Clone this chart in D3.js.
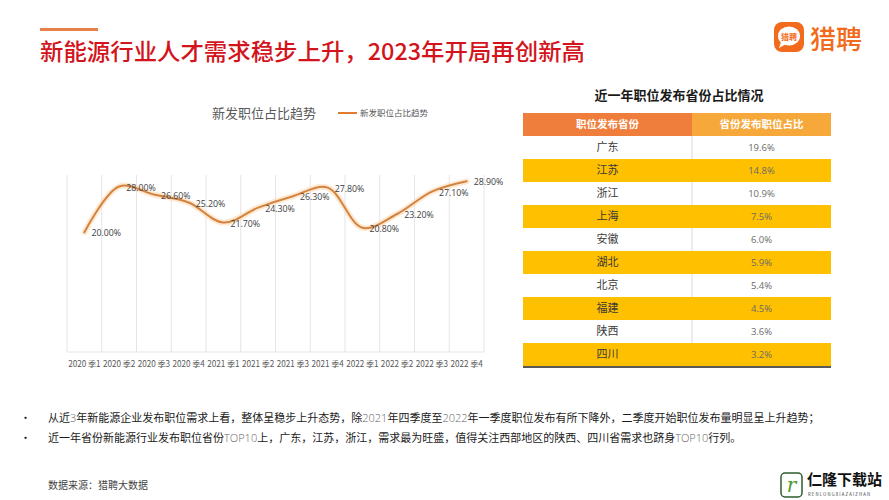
<!DOCTYPE html>
<html><head><meta charset="utf-8">
<script src="https://cdn.jsdelivr.net/npm/d3@7/dist/d3.min.js"></script>
<style>
html,body{margin:0;padding:0;background:#fff;}
svg{display:block;font-family:"Noto Sans CJK SC","Noto Sans",sans-serif;}
</style></head>
<body>
<svg id="c" width="889" height="500"></svg>
<script>
// ---- data ----
const quarters = ["2020 季1","2020 季2","2020 季3","2020 季4","2021 季1","2021 季2","2021 季3","2021 季4","2022 季1","2022 季2","2022 季3","2022 季4"];
const shareValues = [20.00, 28.00, 26.60, 25.20, 21.70, 24.30, 26.30, 27.80, 20.80, 23.20, 27.10, 28.90];
const provinces = ["广东","江苏","浙江","上海","安徽","湖北","北京","福建","陕西","四川"];
const provinceShares = ["19.6%","14.8%","10.9%","7.5%","6.0%","5.9%","5.4%","4.5%","3.6%","3.2%"];
const tableHeaders = ["职位发布省份","省份发布职位占比"];
const mainTitle = "新能源行业人才需求稳步上升，2023年开局再创新高";
const chartTitle = "新发职位占比趋势";
const legendLabel = "新发职位占比趋势";
const tableTitle = "近一年职位发布省份占比情况";
const bullets = [
  ["从近","3","年新能源企业发布职位需求上看，整体呈稳步上升态势，除","2021","年四季度至","2022","年一季度职位发布有所下降外，二季度开始职位发布量明显呈上升趋势；"],
  ["近一年省份新能源行业发布职位省份","TOP10","上，广东，江苏，浙江，需求最为旺盛，值得关注西部地区的陕西、四川省需求也跻身","TOP10","行列。"]
];
const sourceNote = "数据来源：猎聘大数据";

const svg = d3.select("#c");

// ---- header ----
svg.append("rect").attr("x",40).attr("y",28).attr("width",58).attr("height",3).attr("fill","#e8804a");
svg.append("text").attr("x",40).attr("y",60).attr("font-size",23).attr("font-weight",500)
  .attr("fill","#d3141c").attr("textLength",545).attr("lengthAdjust","spacingAndGlyphs").text(mainTitle);

// logo
const logo = svg.append("g");
logo.append("rect").attr("x",774).attr("y",22).attr("width",30).attr("height",30).attr("rx",8).attr("fill","#f26a1b");
logo.append("ellipse").attr("cx",789).attr("cy",36).attr("rx",11).attr("ry",9.5).attr("fill","#fff");
logo.append("path").attr("d","M781,42 L779,48 L786,44 Z").attr("fill","#fff");
logo.append("text").attr("x",789).attr("y",39.5).attr("text-anchor","middle").attr("font-size",8).attr("font-weight",700).attr("fill","#f26a1b").text("猎聘");
logo.append("text").attr("x",810).attr("y",49).attr("font-size",26).attr("font-weight",500).attr("fill","#f26a1b").text("猎聘");

// ---- line chart ----
const x = d3.scaleBand().domain(quarters).range([67,484]);
const y = d3.scaleLinear().domain([0,30]).range([347,175]);

svg.append("text").attr("x",264).attr("y",118).attr("text-anchor","middle").attr("font-size",13).attr("fill","#595959").text(chartTitle);
svg.append("line").attr("x1",338).attr("x2",357).attr("y1",113).attr("y2",113).attr("stroke","#e07b2f").attr("stroke-width",2);
svg.append("text").attr("x",360).attr("y",116).attr("font-size",8.5).attr("fill","#595959").text(legendLabel);

const grid = svg.append("g");
const bounds = quarters.map(q => x(q)).concat([x.range()[1]]);
grid.selectAll("line").data(bounds).join("line")
  .attr("x1",d=>d).attr("x2",d=>d).attr("y1",175).attr("y2",352)
  .attr("stroke","#e5e5e5").attr("stroke-width",1);
grid.append("line").attr("x1",67).attr("x2",484).attr("y1",352).attr("y2",352).attr("stroke","#e5e5e5");

const xAxis = svg.append("g").attr("transform","translate(0,352)")
  .call(d3.axisBottom(x).tickSize(0).tickPadding(9));
xAxis.select(".domain").remove();
xAxis.selectAll("text").attr("font-size",8.5).attr("fill","#595959").attr("font-family","'Noto Sans CJK SC',sans-serif")
  .attr("textLength",32.5).attr("lengthAdjust","spacingAndGlyphs");

const pts = quarters.map((q,i)=>[x(q)+x.bandwidth()/2, y(shareValues[i])]);
const lineGen = d3.line().curve(d3.curveCatmullRom.alpha(0.5));
svg.append("path").attr("d",lineGen(pts)).attr("fill","none").attr("stroke","#fdd9b0").attr("stroke-width",6).attr("stroke-opacity",0.55).attr("stroke-linecap","round");
svg.append("path").attr("d",lineGen(pts)).attr("fill","none").attr("stroke","#d4833f").attr("stroke-width",2).attr("stroke-linecap","round");

svg.append("g").selectAll("text").data(shareValues).join("text")
  .attr("x",(d,i)=>pts[i][0]+7).attr("y",(d,i)=>pts[i][1]+1).attr("dy","0.35em")
  .attr("font-size",8.8).attr("fill","#404040").attr("font-family","'Open Sans',sans-serif")
  .text(d=>d.toFixed(2)+"%");

// ---- table ----
svg.append("text").attr("x",679).attr("y",100).attr("text-anchor","middle").attr("font-size",13).attr("font-weight",700).attr("fill","#1a1a1a").text(tableTitle);
const cx = [523,692,831];
const rowY = d3.scaleBand().domain(provinces).range([136,366]);
svg.append("rect").attr("x",cx[0]).attr("y",113).attr("width",cx[1]-cx[0]).attr("height",23).attr("fill","#ef7e3c");
svg.append("rect").attr("x",cx[1]).attr("y",113).attr("width",cx[2]-cx[1]).attr("height",23).attr("fill","#f6a83a");
tableHeaders.forEach((h,i)=>{
  svg.append("text").attr("x",(cx[i]+cx[i+1])/2).attr("y",124.5).attr("dy","0.35em").attr("text-anchor","middle")
    .attr("font-size",10.5).attr("font-weight",700).attr("fill","#fff").text(h);
});
const rows = svg.append("g").selectAll("g").data(provinces).join("g");
rows.append("rect").attr("x",cx[0]).attr("y",d=>rowY(d)).attr("width",cx[2]-cx[0]).attr("height",rowY.bandwidth())
  .attr("fill",(d,i)=> i%2 ? "#ffc000" : "#ffffff");
rows.filter((d,i)=>i%2===0).append("line").attr("x1",cx[1]).attr("x2",cx[1]).attr("y1",d=>rowY(d)).attr("y2",d=>rowY(d)+rowY.bandwidth()).attr("stroke","#d9d9d9");
rows.append("text").attr("x",(cx[0]+cx[1])/2).attr("y",d=>rowY(d)+rowY.bandwidth()/2).attr("dy","0.35em").attr("text-anchor","middle")
  .attr("font-size",11).attr("fill","#3a3a3a").text(d=>d);
rows.append("text").attr("x",(cx[1]+cx[2])/2).attr("y",d=>rowY(d)+rowY.bandwidth()/2).attr("dy","0.35em").attr("text-anchor","middle")
  .attr("font-size",9.5).attr("fill","#6a6a6a").attr("font-family","'Open Sans',sans-serif").text((d,i)=>provinceShares[i]);
svg.append("line").attr("x1",cx[0]).attr("x2",cx[2]).attr("y1",367).attr("y2",367).attr("stroke","#595959").attr("stroke-width",2);

// ---- bullets ----
bullets.forEach((parts,i)=>{
  const yy = 422 + i*20;
  svg.append("text").attr("x",20).attr("y",yy).attr("font-size",11).attr("fill","#222").text("•");
  const t = svg.append("text").attr("x",48).attr("y",yy).attr("font-size",11).attr("fill","#1a1a1a");
  parts.forEach((p,j)=>{
    const ts = t.append("tspan").text(p);
    if (j%2===1) ts.attr("fill","#666").attr("font-family","'Open Sans',sans-serif").attr("font-weight",300);
  });
});

// ---- footer ----
svg.append("text").attr("x",48).attr("y",489).attr("font-size",10).attr("fill","#444").text(sourceNote);

// watermark
const wm = svg.append("g");
wm.append("rect").attr("x",781).attr("y",473).attr("width",21).attr("height",24).attr("rx",4).attr("fill","#fff").attr("stroke","#2e5e2e").attr("stroke-width",1.5);
wm.append("text").attr("x",791.5).attr("y",492).attr("text-anchor","middle").attr("font-size",20).attr("font-style","italic").attr("fill","#4c9a2a").attr("font-family","'DejaVu Serif',serif").text("r");
wm.append("text").attr("x",807).attr("y",485).attr("font-size",15).attr("font-weight",700).attr("fill","#111").text("仁隆下载站");
wm.append("text").attr("x",808).attr("y",496).attr("font-size",4.2).attr("fill","#333").attr("letter-spacing",1.2).text("RENLONGXIAZAIZHAN");
</script>
</body></html>
